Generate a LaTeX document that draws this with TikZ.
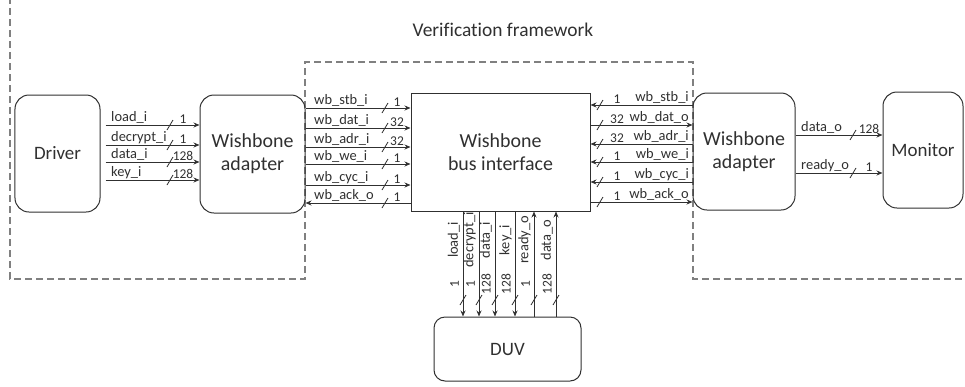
\documentclass[tikz,border=0pt]{standalone}
\usepackage{fontspec}
\setmainfont{Carlito}[Ligatures=NoCommon]
\usetikzlibrary{arrows.meta,calc}
\definecolor{ink}{HTML}{303030}
\definecolor{framegray}{HTML}{808080}
\begin{document}
\begin{tikzpicture}[x=1bp,y=-1bp,
  box/.style={draw=ink, line width=1bp, rounded corners=14bp, inner sep=0pt,
    align=center, text=ink, font=\fontsize{20}{23}\selectfont},
  sig/.style={draw=ink, line width=0.9bp},
  fwd/.style={-{Stealth[length=6bp,width=5bp]}},
  bwd/.style={{Stealth[length=6bp,width=5bp]}-},
  lbl/.style={text=ink, inner sep=1bp, font=\fontsize{14.5}{16}\selectfont},
  wid/.style={text=ink, inner sep=1bp, font=\fontsize{13.5}{15}\selectfont},
  frame/.style={draw=framegray, line width=1.3bp, dash pattern=on 7bp off 4bp}]
\useasboundingbox (0,0) rectangle (965,386);

% outline of the verification framework
\draw[frame] (10,-3) -- (10,279) -- (305,279) -- (305,62) -- (693,62)
  -- (693,279) -- (968,279);
\node[text=ink, font=\fontsize{19.5}{22}\selectfont] (title) at (503,30) {Verification framework};

% blocks
\node[box, minimum width=85bp, minimum height=117bp, font=\fontsize{19}{22}\selectfont]
  (driver) at (57.5,153.5) {Driver};
\node[box, minimum width=105bp, minimum height=118bp] (adL) at (252.5,154) {Wishbone\\adapter};
\node[box, rounded corners=0pt, minimum width=179bp, minimum height=118bp]
  (bus) at (500.5,152) {Wishbone\\bus interface};
\node[box, minimum width=102bp, minimum height=117bp] (adR) at (744,151.5) {Wishbone\\adapter};
\node[box, minimum width=80bp, minimum height=116bp, font=\fontsize{19}{22}\selectfont]
  (monitor) at (923,150) {Monitor};
\node[box, rounded corners=11bp, minimum width=147bp, minimum height=64bp,
  font=\fontsize{19}{22}\selectfont] (duv) at (507.5,349) {DUV};

% bus-width mark on a signal
\newcommand{\bitmark}[2]{\draw[ink, line width=0.8bp] ($(#1,#2)+(-3,5)$) -- ($(#1,#2)+(3,-5)$);}

% driver -> adapter
\foreach \y/\n/\w in {125/load\_i/1, 145/decrypt\_i/1, 162/data\_i/128, 180/key\_i/128} {
  \draw[sig, fwd, shorten <=5bp] (driver.east |- 0,\y) -- (adL.west |- 0,\y);
  \node[lbl, anchor=south west] at (110,\y) {\n};
  \node[wid, anchor=south] at (183,\y) {\w};
  \bitmark{170}{\y}
}

% adapter <-> bus interface
\foreach \y/\n/\w/\d in {108/wb\_stb\_i/1/fwd, 128/wb\_dat\_i/32/fwd, 147/wb\_adr\_i/32/fwd,
    164/wb\_we\_i/1/fwd, 185/wb\_cyc\_i/1/fwd, 203/wb\_ack\_o/1/bwd} {
  \draw[sig, \d] (adL.east |- 0,\y) -- (bus.west |- 0,\y);
  \node[lbl, anchor=south west] at (313,\y) {\n};
  \node[wid, anchor=south] at (397,\y) {\w};
  \bitmark{385}{\y}
}

% bus interface <-> adapter
\foreach \y/\n/\w/\d in {105/wb\_stb\_i/1/bwd, 125/wb\_dat\_o/32/fwd, 144/wb\_adr\_i/32/bwd,
    162/wb\_we\_i/1/bwd, 182/wb\_cyc\_i/1/bwd, 202/wb\_ack\_o/1/fwd} {
  \draw[sig, \d] (bus.east |- 0,\y) -- (adR.west |- 0,\y);
  \node[lbl, anchor=south east] at (690,\y) {\n};
  \node[wid, anchor=south] at (617,\y) {\w};
  \bitmark{600}{\y}
}

% adapter -> monitor
\foreach \y/\n/\w in {135/data\_o/128, 173/ready\_o/1} {
  \draw[sig, fwd] (adR.east |- 0,\y) -- (monitor.west |- 0,\y);
  \node[lbl, anchor=south west] at (800,\y) {\n};
  \node[wid, anchor=south] at (869,\y) {\w};
  \bitmark{853}{\y}
}

% bus interface <-> DUV
\foreach \x/\n/\w/\d in {463/load\_i/1/fwd, 479/decrypt\_i/1/fwd, 495/data\_i/128/fwd,
    515/key\_i/128/fwd, 534/ready\_o/1/bwd, 556/data\_o/128/bwd} {
  \draw[sig, \d] (bus.south -| \x,0) -- (duv.north -| \x,0);
  \node[lbl, rotate=90, anchor=south] at (\x-2,240) {\n};
  \node[wid, rotate=90, anchor=south] at (\x-3,284) {\w};
  \bitmark{\x}{300}
}
\end{tikzpicture}
\end{document}
